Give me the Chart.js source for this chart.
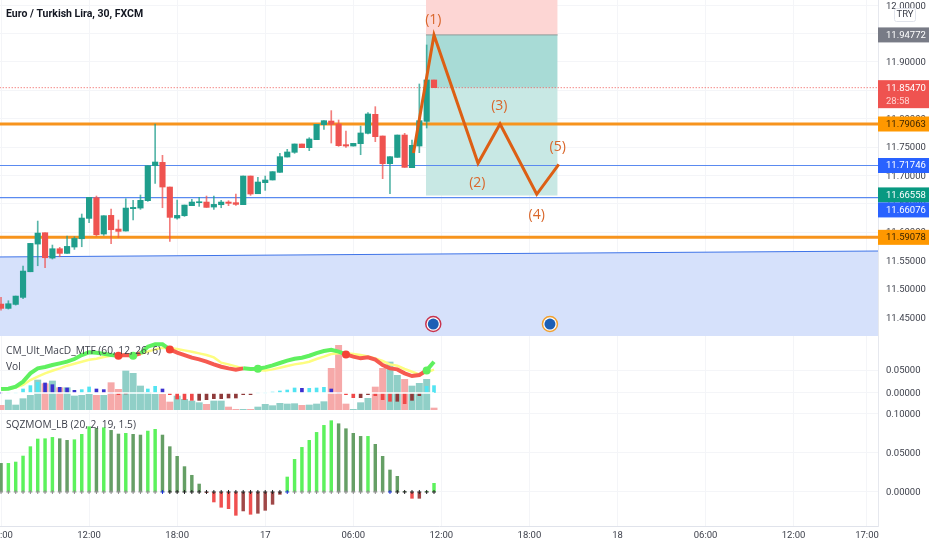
<!DOCTYPE html>
<html>
<head>
<meta charset="utf-8">
<style>
  body { margin: 0; background: #fff; width: 932px; height: 550px; overflow: hidden; position: relative; }
  canvas { position: absolute; left: 0; filter: blur(.3px); }
</style>
<script src="https://cdn.jsdelivr.net/npm/chart.js@4"></script>
</head>
<body>
<canvas id="priceChart" width="932" height="336" style="top:0"></canvas>
<canvas id="macdChart" width="932" height="74" style="top:336px"></canvas>
<canvas id="sqzChart" width="932" height="140" style="top:410px"></canvas>
<script>
// candles, one per 30 minutes, starting 16th 00:00
const opens = [11.4731,11.4655,11.4725,11.4849,11.5301,11.5789,11.5989,11.5542,11.5707,11.5625,11.5737,11.5883,11.6242,11.6607,11.5966,11.6295,11.6054,11.6019,11.6413,11.6424,11.6554,11.7171,11.7230,11.6795,11.6248,11.6289,11.6466,11.6519,11.6530,11.6442,11.6483,11.6530,11.6519,11.6484,11.6989,11.6677,11.6872,11.6919,11.7054,11.7324,11.7407,11.7554,11.7489,11.7630,11.7895,11.7959,11.7906,11.7542,11.7518,11.7559,11.7742,11.8077,11.7695,11.7207,11.7318,11.7712,11.7136,11.7518,11.7953,11.8683];
const highs = [11.4849,11.4790,11.4872,11.5401,11.5801,11.6195,11.5989,11.5772,11.5731,11.5931,11.5919,11.6319,11.6613,11.6636,11.6289,11.6407,11.6213,11.6589,11.6560,11.6654,11.7171,11.7906,11.7354,11.6795,11.6566,11.6477,11.6577,11.6613,11.6636,11.6636,11.6560,11.6554,11.6672,11.6989,11.6989,11.6966,11.6989,11.7066,11.7389,11.7460,11.7554,11.7554,11.7665,11.7901,11.7965,11.8142,11.7977,11.7783,11.7565,11.7871,11.8106,11.8212,11.7695,11.7330,11.7712,11.7742,11.7624,11.8612,11.9300,11.8683];
const lows = [11.4625,11.4643,11.4713,11.4825,11.5301,11.5407,11.5372,11.5525,11.5566,11.5625,11.5695,11.5742,11.6166,11.5931,11.5942,11.5795,11.5901,11.6019,11.6213,11.6401,11.6542,11.6860,11.6430,11.5836,11.6230,11.6277,11.6466,11.6454,11.6436,11.6401,11.6430,11.6466,11.6472,11.6484,11.6648,11.6677,11.6736,11.6919,11.7054,11.7324,11.7389,11.7489,11.7436,11.7630,11.7812,11.7571,11.7512,11.7495,11.7518,11.7365,11.7730,11.7595,11.6942,11.6677,11.7318,11.7142,11.7136,11.7401,11.7836,11.8547];
const closes = [11.4655,11.4737,11.4872,11.5313,11.5801,11.5983,11.5548,11.5707,11.5625,11.5748,11.5889,11.6248,11.6613,11.5954,11.6289,11.6042,11.6013,11.6424,11.6436,11.6560,11.7171,11.7236,11.6795,11.6260,11.6295,11.6477,11.6530,11.6536,11.6436,11.6489,11.6530,11.6507,11.6489,11.6989,11.6672,11.6883,11.6919,11.7066,11.7330,11.7413,11.7554,11.7489,11.7642,11.7901,11.7965,11.7901,11.7524,11.7518,11.7565,11.7748,11.8083,11.7683,11.7207,11.7330,11.7712,11.7142,11.7530,11.7965,11.8683,11.8547];

const volumes = [14,30,15,34,44,90,79,87,67,67,42,44,47,44,44,82,62,117,110,72,52,47,47,24,42,32,27,22,17,27,27,9,2,2,2,9,17,13,20,18,19,14,15,18,25,125,194,18,2,22,35,69,125,144,104,92,72,80,92,6];
const macdLine = [.0087,.0094,.0137,.0246,.0427,.0536,.0565,.0608,.0645,.0681,.0739,.0826,.0884,.0877,.0855,.0826,.0811,.0826,.0811,.0862,.1007,.1058,.1058,.0949,.0877,.0826,.0768,.0732,.0681,.0623,.0572,.0536,.0507,.0536,.0522,.0529,.0558,.0601,.0652,.0703,.0746,.0768,.0811,.0869,.0913,.0942,.0899,.0840,.0790,.0754,.0775,.0725,.0608,.0536,.0514,.0427,.0369,.0391,.0492,.0681];
const signalLine = [.0079,.0087,.0116,.0174,.0282,.0355,.0427,.0485,.0536,.0594,.0637,.0681,.0725,.0746,.0782,.0811,.0826,.0833,.0826,.0848,.0899,.0949,.0985,.0971,.0956,.0927,.0899,.0862,.0826,.0775,.0659,.0623,.0579,.0536,.0514,.0500,.0492,.0514,.0551,.0587,.0623,.0645,.0681,.0739,.0790,.0848,.0862,.0862,.0848,.0826,.0797,.0754,.0696,.0623,.0594,.0522,.0463,.0405,.0449,.0507];
const macdHist = [0,0,0,.0087,.016,.0232,.0218,.0181,.0123,.0109,.0058,.0073,.0131,.0087,.0073,0,-.0036,-.002,0,0,.0087,.0145,.0087,-.0036,-.0131,-.0145,-.016,-.016,-.0145,-.0123,-.0123,-.0109,-.0109,-.0036,-.0036,0,0,.002,.0044,.0065,.0109,.0102,.0102,.0109,.0123,.0087,0,-.0036,-.0102,-.0102,-.0036,-.0058,-.0145,-.0181,-.0181,-.0232,-.016,-.0058,.0145,.016];
const macdCrosses = [16,18,23,35,47,58];

const sqzValues = [.0367,.0367,.0384,.0461,.0581,.0679,.0683,.0700,.0683,.0662,.0670,.0739,.0837,.0816,.0824,.0790,.0743,.0752,.0739,.0730,.0781,.0803,.0730,.0581,.0457,.0325,.0214,.0102,-.0009,-.0128,-.0196,-.0214,-.0299,-.0243,-.0286,-.0273,-.0235,-.0158,-.0030,.0192,.0418,.0572,.0662,.0764,.0854,.0914,.0875,.0811,.0752,.0713,.0713,.0611,.0457,.0282,.0201,.0004,-.0081,-.0081,.0005,.0111];
const sqzOff = [22,39,53];
const sqzOn = [23,24,25,26,27,28,29,30,31,32,33,34,35,36,37,38,54,55,56,57,58,59];

const priceTicks = [11.45,11.5,11.55,11.6,11.65,11.7,11.75,11.8,11.85,11.9,11.95,12];
const macdTicks = [0,0.05];
const sqzTicks = [0,0.05,0.1];
const timeTicks = [0,12,24,36,48,60,72,84,96,108,118];
const timeLabels = ['00:00','12:00','18:00','17','06:00','12:00','18:00','18','06:00','12:00','17:00'];

// drawn levels
const resistance = 11.79063, support = 11.59078;
const blueLevels = [11.71746, 11.66076];
const lastPrice = 11.8547;
const channelX = [-1, 120], channelPrice = [11.5561, 11.5667];
const boxX = [57.9, 75.85];
const stopPrice = 11.94772, targetPrice = 11.6646;
const waveX = [56.2, 59, 65, 68, 73, 76];
const wavePrice = [11.7395, 11.9476, 11.7213, 11.7906, 11.6667, 11.7196];
const waveLabels = ['(1)','(2)','(3)','(4)','(5)'];
const waveLabelX = [58.9, 64.9, 67.9, 73, 75.85];
const waveLabelPrice = [11.9758, 11.6884, 11.8242, 11.6319, 11.7519];
const eventX = [58.9, 74.8];
const eventPrice = [11.4379, 11.4379];

// price tags on the right axis
const tagPrices = [11.94772, 11.8547, 11.79063, 11.71746, 11.66558, 11.66076, 11.59078];
const tagColors = ['#787b86','#ef5350','#ff9800','#2962ff','#089981','#2962ff','#ff9800'];
const tagTextColors = ['#fff','#fff','#3a2400','#fff','#fff','#fff','#3a2400'];
const countdown = '28:58';

const UP = '#1f9e8c', DOWN = '#ef5350';
const UP_WICK = 'rgba(31,158,140,.75)', DOWN_WICK = 'rgba(239,83,80,.75)';
const AXIS_FONT = { family: 'Roboto', size: 9.5 };
const TEXT = '#3c3f4a';
const GRID = '#f4f5f8';
const BLUE_LINE = '#5a8af0';
const LEFT_X = -0.14, RIGHT_X = 119.5;

const isUp = opens.map((o, i) => closes[i] >= o);

function flat(xs, y) { return xs.map(x => ({ x: x, y: y })); }
function zip(xs, ys) { return xs.map((x, i) => ({ x: x, y: ys[i] })); }
function series(ys) { return ys.map((y, i) => ({ x: i, y: y })); }

function xAxis(showLabels) {
  return {
    type: 'linear', min: LEFT_X, max: RIGHT_X, offset: false, bounds: 'data',
    afterBuildTicks: s => { s.ticks = timeTicks.map(v => ({ value: v })); },
    afterFit: s => { s.paddingLeft = 0; s.paddingRight = 0; s.height = showLabels ? 24 : 0; },
    grid: { color: GRID, drawTicks: false, offset: false },
    border: { display: showLabels, color: '#e0e3eb' },
    ticks: {
      display: showLabels, autoSkip: false, maxRotation: 0, padding: 4,
      color: TEXT, font: AXIS_FONT,
      callback: (v, i) => timeLabels[i]
    }
  };
}
function yAxis(min, max, tickValues) {
  return {
    type: 'linear', position: 'right', min: min, max: max, bounds: 'data',
    afterBuildTicks: s => { s.ticks = tickValues.map(v => ({ value: v })); },
    afterFit: s => { s.width = 54; s.paddingTop = 0; s.paddingBottom = 0; },
    grid: { color: GRID, drawTicks: false },
    border: { color: '#e6e8ee' },
    ticks: {
      autoSkip: false, padding: 8, labelOffset: 1, color: TEXT, font: AXIS_FONT,
      callback: v => v.toFixed(5)
    }
  };
}

const textLabels = {
  id: 'textLabels',
  afterDraw(chart, args, opts) {
    const ctx = chart.ctx;
    ctx.save();
    ctx.textBaseline = 'middle';
    ctx.textAlign = 'left';
    (opts.lines || []).forEach(l => {
      ctx.font = l.font;
      ctx.fillStyle = l.color;
      ctx.fillText(l.text, 6, l.y);
    });
    ctx.restore();
  }
};

const priceOverlay = {
  id: 'priceOverlay',
  afterDraw(chart) {
    const ctx = chart.ctx, xs = chart.scales.x, ys = chart.scales.y;
    const left = chart.chartArea.right, w = 51;
    ctx.save();
    ctx.textBaseline = 'middle';

    // wave labels
    ctx.textAlign = 'center';
    ctx.font = '14px "Open Sans"';
    ctx.fillStyle = '#d9662a';
    waveLabels.forEach((t, i) => {
      ctx.fillText(t, xs.getPixelForValue(waveLabelX[i]), ys.getPixelForValue(waveLabelPrice[i]) + 1);
    });

    // axis tags, pushed down when they would overlap
    ctx.textAlign = 'left';
    ctx.font = '9.5px Roboto';
    let bottom = 0;
    tagPrices.forEach((p, i) => {
      const top = Math.max(ys.getPixelForValue(p) - 7.5, bottom);
      const h = p === lastPrice ? 28 : 15;
      ctx.fillStyle = tagColors[i];
      ctx.fillRect(left, top, w, h);
      ctx.fillStyle = tagTextColors[i];
      ctx.fillText(p.toFixed(5), left + 8, top + 8);
      if (p === lastPrice) {
        ctx.fillStyle = '#ffd2d0';
        ctx.fillText(countdown, left + 8, top + 21);
      }
      bottom = top + h;
    });

    // currency box
    ctx.fillStyle = '#fff';
    ctx.strokeStyle = '#e0e3eb';
    ctx.beginPath();
    ctx.roundRect(894.5, 8.5, 21, 13, 2);
    ctx.fill();
    ctx.stroke();
    ctx.fillStyle = TEXT;
    ctx.textAlign = 'center';
    ctx.fillText('TRY', 905, 15);
    ctx.restore();
  }
};

// first dataset in the list is painted on top
new Chart(document.getElementById('priceChart'), {
  type: 'bar',
  plugins: [priceOverlay, textLabels],
  data: { datasets: [
    { type: 'line', data: zip(eventX, eventPrice), showLine: false, pointRadius: 5.5, pointBackgroundColor: '#1c5fb5', pointBorderWidth: 0 },
    { type: 'line', data: zip(eventX, eventPrice), showLine: false, pointRadius: 7.5, pointBackgroundColor: '#fff', pointBorderWidth: 1.5, pointBorderColor: ['#c8344e', '#f0a030'] },
    { type: 'line', data: zip(waveX, wavePrice), borderColor: '#dd5f14', borderWidth: 3, pointRadius: 0 },
    { type: 'bar', data: opens.map((o, i) => ({ x: i, y: [o, closes[i]] })), backgroundColor: isUp.map(u => u ? UP : DOWN), barThickness: 5.5, grouped: false },
    { type: 'bar', data: lows.map((l, i) => ({ x: i, y: [l, highs[i]] })), backgroundColor: isUp.map(u => u ? UP_WICK : DOWN_WICK), barThickness: 1, grouped: false },
    { type: 'line', data: flat(channelX, resistance), borderColor: '#f7941d', borderWidth: 3, pointRadius: 0 },
    { type: 'line', data: flat(channelX, support), borderColor: '#f7941d', borderWidth: 3, pointRadius: 0 },
    { type: 'line', data: flat(channelX, blueLevels[0]), borderColor: BLUE_LINE, borderWidth: 1.2, pointRadius: 0 },
    { type: 'line', data: flat(channelX, blueLevels[1]), borderColor: BLUE_LINE, borderWidth: 1.2, pointRadius: 0 },
    { type: 'line', data: flat(channelX, lastPrice), borderColor: '#ef5350', borderWidth: 1, borderDash: [1, 2], pointRadius: 0 },
    { type: 'line', data: flat(boxX, stopPrice), borderColor: '#8a9a98', borderWidth: 1, pointRadius: 0 },
    { type: 'line', data: flat(boxX, stopPrice), borderWidth: 0, pointRadius: 0, fill: 'end', backgroundColor: '#fdd6d4' },
    { type: 'line', data: flat(boxX, stopPrice), borderWidth: 0, pointRadius: 0, fill: { value: lastPrice }, backgroundColor: '#a8dbd6' },
    { type: 'line', data: flat(boxX, lastPrice), borderWidth: 0, pointRadius: 0, fill: { value: targetPrice }, backgroundColor: '#c8e8e4' },
    { type: 'line', data: zip(channelX, channelPrice), borderColor: '#3f74e8', borderWidth: 1, pointRadius: 0, fill: 'start', backgroundColor: '#d6e1fb' }
  ] },
  options: {
    responsive: false, animation: false,
    layout: { padding: 0, autoPadding: false },
    scales: { x: xAxis(false), y: yAxis(11.4168, 12.0093, priceTicks) },
    plugins: {
      legend: { display: false }, tooltip: { enabled: false },
      textLabels: { lines: [{ text: 'Euro / Turkish Lira, 30, FXCM', y: 14, font: 'bold 10.5px Roboto', color: '#131722' }] }
    }
  }
});

const crossRed = macdCrosses.map((c, i) => i % 2 === 0);
const macdGreen = macdLine.map((v, i) => v >= signalLine[i]);
new Chart(document.getElementById('macdChart'), {
  type: 'bar',
  plugins: [textLabels],
  data: { datasets: [
    { type: 'line', data: macdCrosses.map(i => ({ x: i, y: macdLine[i] })), showLine: false, pointRadius: 4, pointBorderWidth: 0, pointBackgroundColor: crossRed.map(r => r ? '#f44336' : '#5ff05f') },
    { type: 'line', data: series(macdLine), borderWidth: 4, pointRadius: 0, borderColor: '#5ff05f', segment: { borderColor: c => macdGreen[c.p0DataIndex] ? '#5ff05f' : '#f65a50' } },
    { type: 'line', data: series(signalLine), borderColor: '#fdfd80', borderWidth: 2.5, pointRadius: 0 },
    { type: 'line', data: series(macdHist.map(() => 0)), borderColor: '#fff', borderWidth: 1.5, pointRadius: 0 },
    { type: 'bar', data: series(macdHist), barThickness: 3, grouped: false,
      backgroundColor: macdHist.map((v, i) => {
        const rising = i > 0 && v >= macdHist[i - 1];
        if (v >= 0) return rising ? '#52e4f2' : '#3b30d0';
        return rising ? '#8f3a3a' : '#f04848';
      }) },
    { type: 'bar', yAxisID: 'vol', data: series(volumes), barThickness: 6.3, grouped: false, backgroundColor: isUp.map(u => u ? '#90cfc7' : '#f6a9a9') }
  ] },
  options: {
    responsive: false, animation: false,
    layout: { padding: 0, autoPadding: false },
    scales: {
      x: xAxis(false),
      y: yAxis(-0.0370, 0.1240, macdTicks),
      vol: { display: false, min: 0, max: 222 }
    },
    plugins: {
      legend: { display: false }, tooltip: { enabled: false },
      textLabels: { lines: [
        { text: 'CM_Ult_MacD_MTF (60, 12, 26, 6)', y: 15, font: '10.2px "Open Sans"', color: TEXT },
        { text: 'Vol', y: 31, font: '10.2px "Open Sans"', color: TEXT }
      ] }
    }
  }
});

const sqzBlue = new Set(sqzOff), sqzBlack = new Set(sqzOn);
new Chart(document.getElementById('sqzChart'), {
  type: 'bar',
  plugins: [textLabels],
  data: { datasets: [
    { type: 'line', data: series(sqzValues.map(() => 0)), showLine: false, pointStyle: 'cross', pointRadius: 2, pointBorderWidth: 1,
      pointBorderColor: sqzValues.map((v, i) => sqzBlue.has(i) ? '#1a2fd0' : sqzBlack.has(i) ? '#222' : '#8c8c8c') },
    { type: 'bar', data: series(sqzValues), barThickness: 2.8, grouped: false,
      backgroundColor: sqzValues.map((v, i) => {
        const rising = i > 0 && v >= sqzValues[i - 1];
        if (v >= 0) return rising ? '#5cf25c' : '#659f65';
        return rising ? '#a04848' : '#f05050';
      }) }
  ] },
  options: {
    responsive: false, animation: false,
    layout: { padding: 0, autoPadding: false },
    scales: { x: xAxis(true), y: yAxis(-0.0436, 0.1051, sqzTicks) },
    plugins: {
      legend: { display: false }, tooltip: { enabled: false },
      textLabels: { lines: [{ text: 'SQZMOM_LB (20, 2, 19, 1.5)', y: 15, font: '10.2px "Open Sans"', color: TEXT }] }
    }
  }
});
</script>
</body>
</html>
